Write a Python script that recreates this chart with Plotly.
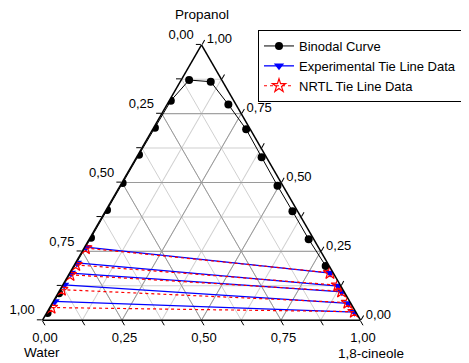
import plotly.graph_objects as go

# ---------------- data ----------------
# Binodal curve (mass fractions): propanol (top), water (left), 1,8-cineole (right)
binodal_propanol = [0.026, 0.098, 0.299, 0.400, 0.498, 0.601, 0.699, 0.797, 0.872,
                    0.866, 0.783, 0.693, 0.592, 0.488, 0.396, 0.294, 0.197]
binodal_water = [0.971, 0.899, 0.698, 0.597, 0.499, 0.396, 0.297, 0.198, 0.103,
                 0.038, 0.024, 0.013, 0.015, 0.017, 0.016, 0.016, 0.011]
binodal_cineole = [0.003, 0.003, 0.003, 0.003, 0.003, 0.003, 0.004, 0.005, 0.025,
                   0.096, 0.193, 0.294, 0.393, 0.495, 0.588, 0.690, 0.792]

# Experimental tie lines: water-rich end (left) and cineole-rich end (right)
exp_left_propanol = [0.265, 0.208, 0.171, 0.128, 0.068]
exp_left_water = [0.731, 0.788, 0.825, 0.868, 0.928]
exp_left_cineole = [0.004, 0.004, 0.004, 0.004, 0.004]
exp_right_propanol = [0.171, 0.124, 0.103, 0.061, 0.029]
exp_right_water = [0.010, 0.008, 0.007, 0.008, 0.004]
exp_right_cineole = [0.819, 0.868, 0.890, 0.931, 0.967]

# NRTL tie lines
nrtl_left_propanol = [0.262, 0.201, 0.165, 0.111, 0.046]
nrtl_left_water = [0.734, 0.795, 0.831, 0.885, 0.950]
nrtl_left_cineole = [0.004, 0.004, 0.004, 0.004, 0.004]
nrtl_right_propanol = [0.172, 0.127, 0.105, 0.064, 0.031]
nrtl_right_water = [0.010, 0.008, 0.007, 0.008, 0.004]
nrtl_right_cineole = [0.818, 0.865, 0.888, 0.928, 0.965]

# Axis ticks
tick_values = [0.0, 0.125, 0.25, 0.375, 0.5, 0.625, 0.75, 0.875, 1.0]
tick_labels = ["0,00", "", "0,25", "", "0,50", "", "0,75", "", "1,00"]
major_values = [0.25, 0.5, 0.75]

axis_titles = ["Propanol", "Water", "1,8-cineole"]
legend_names = ["Binodal Curve", "Experimental Tie Line Data", "NRTL Tie Line Data"]

FONT = "Liberation Sans, Arial, sans-serif"
W, H = 469, 363
OFF = 8  # page body margin


def px(x, y):
    """screen pixel -> paper coords (compensating the page margin)"""
    return (x - OFF) / W, 1 - (y - OFF) / H


def segments(la, lb, lc, ra, rb, rc):
    a, b, c = [], [], []
    for i in range(len(la)):
        a += [la[i], ra[i], None]
        b += [lb[i], rb[i], None]
        c += [lc[i], rc[i], None]
    return a, b, c


# major grid lines derived from major tick values
ga, gb, gc = [], [], []
for v in major_values:
    ga += [v, v, None, 1 - v, 0, None, 1 - v, 0, None]
    gb += [1 - v, 0, None, v, v, None, 0, 1 - v, None]
    gc += [0, 1 - v, None, 0, 1 - v, None, v, v, None]

fig = go.Figure()
fig.add_trace(go.Scatterternary(a=ga, b=gb, c=gc, mode="lines",
                                line=dict(color="#9a9a9a", width=1),
                                showlegend=False, hoverinfo="skip"))

fig.add_trace(go.Scatterternary(
    a=binodal_propanol, b=binodal_water, c=binodal_cineole,
    mode="lines+markers", name=legend_names[0],
    line=dict(color="black", width=1),
    marker=dict(symbol="circle", size=8, color="black")))

ea, eb, ec = segments(exp_left_propanol, exp_left_water, exp_left_cineole,
                      exp_right_propanol, exp_right_water, exp_right_cineole)
fig.add_trace(go.Scatterternary(
    a=ea, b=eb, c=ec, mode="lines+markers", name=legend_names[1],
    line=dict(color="#0000ff", width=1.3),
    marker=dict(symbol="triangle-down", size=9, color="#0000ff")))

na, nb, nc = segments(nrtl_left_propanol, nrtl_left_water, nrtl_left_cineole,
                      nrtl_right_propanol, nrtl_right_water, nrtl_right_cineole)
fig.add_trace(go.Scatterternary(
    a=na, b=nb, c=nc, mode="lines+markers", name=legend_names[2],
    line=dict(color="#ff0000", width=1.2, dash="dot"),
    marker=dict(symbol="star-open", size=10, color="#ff0000", line=dict(width=1.2))))

rev_labels = tick_labels[::-1]
# left-side labels sit a little above their grid line in the reference
left_labels = [t + "<br> " if t else t for t in rev_labels]


def axis(labels):
    return dict(
        tickmode="array", tickvals=tick_values, ticktext=labels,
        ticks="outside", ticklen=5, tickwidth=1, tickcolor="black",
        showline=True, linecolor="black", linewidth=1.5,
        showgrid=True, gridcolor="#d0d0d0", gridwidth=1,
        tickfont=dict(family=FONT, size=13, color="black"),
        title=dict(text=""), layer="above traces")


# triangle in screen pixels: base y 320.5, x 42.5..360.5
x0d, x1d = px(42.5, 0)[0], px(360.5, 0)[0]
yc = px(0, 182.5)[1]
lx, ly = px(258, 30)
t_x, t_y = px(202, 15)
w_x, w_y = px(42, 352)
c_x, c_y = px(371, 353)

fig.update_layout(
    width=W, height=H,
    margin=dict(l=0, r=0, t=0, b=0),
    paper_bgcolor="white",
    font=dict(family=FONT, size=13, color="black"),
    separators=",.",
    ternary=dict(
        sum=1,
        bgcolor="white",
        domain=dict(x=[x0d, x1d], y=[yc - 0.385, yc + 0.385]),
        aaxis=axis(left_labels), baxis=axis(rev_labels), caxis=axis(rev_labels)),
    legend=dict(x=lx, y=ly, xanchor="left", yanchor="top",
                bgcolor="white", bordercolor="black", borderwidth=1,
                font=dict(family=FONT, size=13, color="black"),
                tracegroupgap=0, itemsizing="trace"),
    annotations=[
        dict(text=axis_titles[0], x=t_x, y=t_y, xref="paper", yref="paper",
             showarrow=False, xanchor="center", yanchor="middle",
             font=dict(family=FONT, size=13.5, color="black")),
        dict(text=axis_titles[1], x=w_x, y=w_y, xref="paper", yref="paper",
             showarrow=False, xanchor="center", yanchor="middle",
             font=dict(family=FONT, size=13.5, color="black")),
        dict(text=axis_titles[2], x=c_x, y=c_y, xref="paper", yref="paper",
             showarrow=False, xanchor="center", yanchor="middle",
             font=dict(family=FONT, size=13.5, color="black")),
    ],
)

fig.write_html("out.html")
